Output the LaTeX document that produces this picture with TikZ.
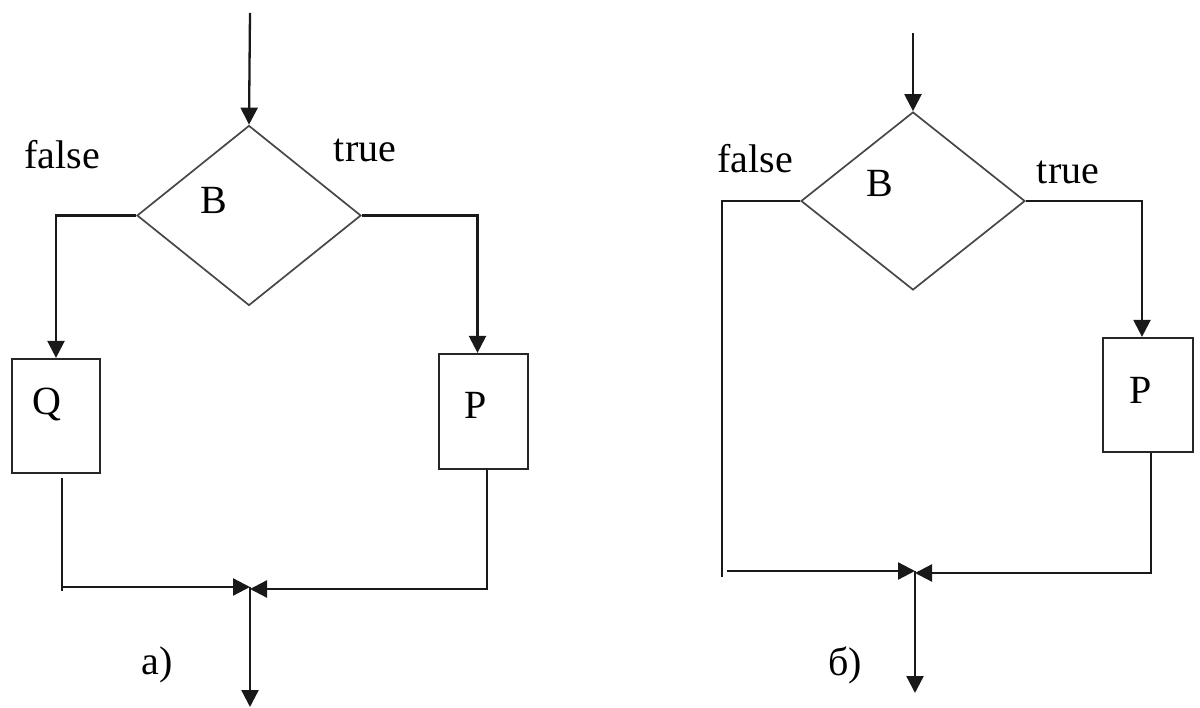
\documentclass[tikz,border=0pt]{standalone}
\usepackage{fontspec}
\setmainfont{Liberation Serif}
\usetikzlibrary{arrows.meta,shapes.geometric,calc}

\tikzset{
  ln/.style={line width=2.3pt, draw=black!90},
  arr/.style={ln, -{Triangle[length=17pt,width=17pt]}},
  dia/.style={diamond, draw=black!72, line width=1.7pt, minimum width=224pt,
              minimum height=180pt, inner sep=0pt},
  blk/.style={rectangle, draw=black!85, line width=2.2pt, inner sep=0pt},
  lbl/.style={inner sep=0pt, font=\fontsize{40}{48}\selectfont}
}

\begin{document}
\begin{tikzpicture}[x=1pt,y=-1pt]
\useasboundingbox (0,0) rectangle (1200,708);

% ---------- scheme a) : full branching ----------
\coordinate (inA) at (250,13);
\node[dia] (BA) at (249,215.5) {};
\node[lbl] (tBA) at (214,200) {B};
\node[lbl] (fA) at (62,155) {false};
\node[lbl] (trA) at (365,150) {true};

\node[blk, minimum width=88pt, minimum height=114pt] (Q) at (56,416) {};
\node[lbl] (tQ) at (47,405) {Q};
\node[blk, minimum width=89pt, minimum height=115pt] (PA) at (483.5,411.5) {};
\node[lbl] (tPA) at (476,405) {P};

\draw[arr] (inA) -- (BA.north);
\draw[arr] (BA.west) -| (Q.north);
\draw[arr] (BA.east) -| ([xshift=-6pt]PA.north);

\coordinate (jA) at (250,587);
\coordinate (qA) at (62,591);
\coordinate (pA) at (487,589);
\coordinate (outA) at (250,707);

\draw[ln] ($(Q.south -| qA)+(0,4)$) -- (qA);
\draw[arr] (qA |- jA) -- (jA);
\draw[arr] (PA.south -| pA) -- (pA) -- (pA -| jA);
\draw[arr] (jA) -- (outA);
\node[lbl] (capA) at (157,665) {а)};

% ---------- scheme б) : shortened branching ----------
\coordinate (inB) at (913,33);
\node[dia, minimum height=178pt] (BB) at (913,201) {};
\node[lbl] (tBB) at (880,183) {B};
\node[lbl] (fB) at (755,159) {false};
\node[lbl] (trB) at (1068,172) {true};

\node[blk, minimum width=90pt, minimum height=114pt] (PB) at (1148,395) {};
\node[lbl] (tPB) at (1141,390) {P};

\draw[arr] (inB) -- (BB.north);
\draw[arr] (BB.east) -| ([xshift=-6pt]PB.north);

\coordinate (jB) at (915,571);
\coordinate (lB) at (722,577);
\coordinate (pB) at (1151,573);
\coordinate (outB) at (915,693);

\draw[ln] ($(BB.west)+(-4,0)$) -| (lB);
\draw[ln] ($(BB.west)+(-4,0)$) -- (BB.west);
\draw[arr] ($(lB |- jB)+(5,0)$) -- (jB);
\draw[arr] (PB.south -| pB) -- (pB) -- (pB -| jB);
\draw[arr] (jB) -- (outB);
\node[lbl] (capB) at (845,665) {б)};
\end{tikzpicture}
\end{document}
